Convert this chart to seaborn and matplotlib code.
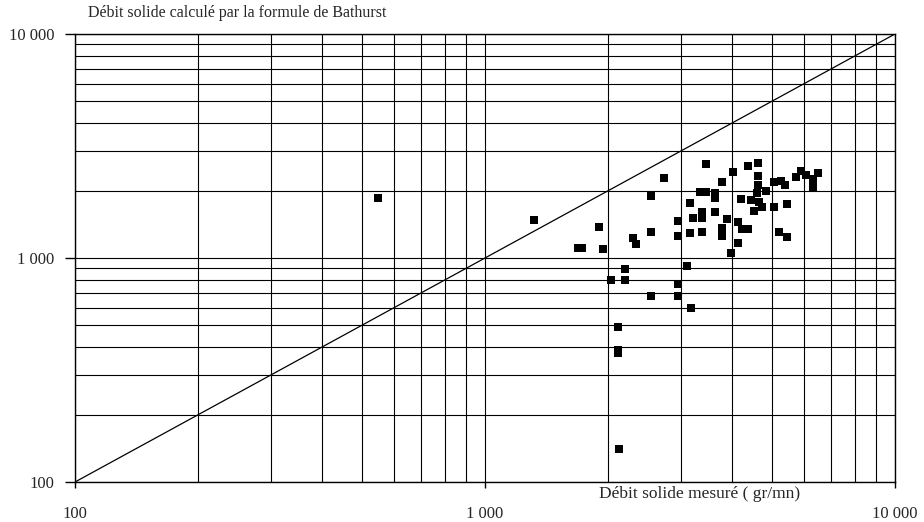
import matplotlib
matplotlib.use('Agg')
import matplotlib.pyplot as plt
import seaborn as sns
import pandas as pd
from matplotlib.ticker import FixedLocator, FixedFormatter, LogLocator, NullFormatter

# Débit solide mesuré (gr/mn)
measured = [548, 1320, 1690, 1720, 1900, 1940, 2030, 2110, 2110, 2110, 2120,
            2200, 2200, 2290, 2340, 2540, 2540, 2540, 2740, 2960, 2960, 2960,
            2960, 3110, 3160, 3160, 3210, 3180, 3380, 3380, 3380, 3340, 3460,
            3460, 3630, 3630, 3630, 3790, 3790, 3790, 3890, 3980, 4020, 4130,
            4130, 4220, 4230, 4390, 4370, 4460, 4540, 4615, 4640, 4640, 4640,
            4670, 4730, 4850, 5070, 5070, 5220, 5260, 5390, 5460, 5460, 5730,
            5900, 6070, 6320, 6320, 6320, 6480]
# Débit solide calculé par la formule de Bathurst
calculated = [1850, 1480, 1110, 1110, 1375, 1100, 800, 490, 390, 378, 140,
              890, 795, 1230, 1150, 1900, 1305, 680, 2280, 1470, 1255, 763,
              675, 925, 1755, 1290, 1515, 596, 1605, 1505, 1305, 1980, 1980,
              2620, 1850, 1610, 1945, 2185, 1365, 1255, 1500, 1050, 2420, 1445,
              1165, 1840, 1345, 1350, 2570, 1815, 1620, 1955, 2650, 2330, 2120,
              1785, 1685, 2000, 2180, 1690, 1300, 2210, 2120, 1735, 1240, 2305,
              2450, 2355, 2245, 2120, 2060, 2395]

diagonal = [100, 10000]
tick_values = [100, 1000, 10000]
tick_labels = ['100', '1 000', '10 000']
y_title = 'Débit solide calculé par la formule de Bathurst'
x_title = 'Débit solide mesuré ( gr/mn)'

sns.set_theme(style='white')
plt.rcParams['font.family'] = ['Liberation Serif', 'DejaVu Serif']

fig = plt.figure(figsize=(9.24, 5.22), dpi=100)
ax = fig.add_axes([75 / 924, 40 / 522, 820 / 924, 448 / 522])
ax.set_xscale('log')
ax.set_yscale('log')

df = pd.DataFrame({'mesure': measured, 'calcule': calculated})
sns.lineplot(x=diagonal, y=diagonal, ax=ax, color='black', lw=0.9)
sns.scatterplot(data=df, x='mesure', y='calcule', marker='s', s=34,
                color='black', edgecolor='black', linewidth=0, ax=ax, zorder=5)

ax.set_xlim(100, 10000)
ax.set_ylim(100, 10000)

for axis in (ax.xaxis, ax.yaxis):
    axis.set_major_locator(FixedLocator(tick_values))
    axis.set_major_formatter(FixedFormatter(tick_labels))
    axis.set_minor_locator(LogLocator(base=10, subs=range(2, 10)))
    axis.set_minor_formatter(NullFormatter())

ax.grid(True, which='both', color='black', lw=0.8)
ax.set_axisbelow(True)
for s in ax.spines.values():
    s.set_color('black')
    s.set_linewidth(1.0)

ax.tick_params(axis='y', which='major', left=True, length=7, width=1,
               direction='out', color='black', labelsize=12, pad=8)
ax.tick_params(axis='y', which='minor', left=False, length=0)
ax.tick_params(axis='x', which='major', bottom=True, length=4, width=1,
               direction='out', color='black', labelsize=12, pad=13)
ax.tick_params(axis='x', which='minor', bottom=False, length=0)
ax.set_xlabel('')
ax.set_ylabel('')

fig.text(88 / 924, 1 - 13 / 522, y_title, ha='left', va='center', fontsize=11.5)
fig.text(700 / 924, 1 - 494 / 522, x_title, ha='center', va='center', fontsize=12.5)

fig.savefig('out.png', dpi=100, facecolor='white')
